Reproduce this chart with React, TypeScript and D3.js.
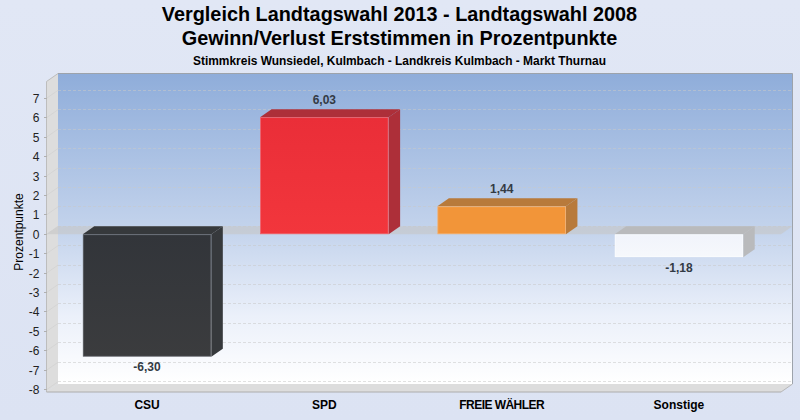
import * as d3 from "d3";

const parties = ["CSU", "SPD", "FREIE WÄHLER", "Sonstige"];
const changes = [-6.3, 6.03, 1.44, -1.18];
const changeLabels = ["-6,30", "6,03", "1,44", "-1,18"];
const frontTop = ["#32353a", "#ea2e38", "#f29539", "#f1f4fb"];
const frontBottom = ["#3b3c3e", "#f2363c", "#f29539", "#f6f8fc"];
const sideColors = ["#36393c", "#ad2f39", "#b87a3b", "#b9babc"];
const edgeColors = ["#54575c", "#f0606a", "#f5ae6a", "#ffffff"];

const WIDTH = 800;
const HEIGHT = 420;
// 3D-Versatz der Rückwand
const dx = 11.5;
const dy = -8;
const left = 46.5;
const right = 781;
const floorY = 392;
const topY = 81.5;

const y = d3.scaleLinear().domain([-8, 7]).range([389.7, 98.3]);
const x = d3
  .scaleBand<string>()
  .domain(parties)
  .range([58.4, 767.6])
  .paddingInner(0.275)
  .paddingOuter(0.1375);

const poly = (pts: [number, number][]) => d3.line()(pts) + "Z";

export default function App() {
  const ticks = y.ticks(15);
  const zero = y(0);

  return (
    <svg
      width={WIDTH}
      height={HEIGHT}
      style={{ display: "block", fontFamily: "'Liberation Sans', Arial, sans-serif" }}
    >
      <style>{`body{margin:0}`}</style>
      <defs>
        <linearGradient id="page" x1="0" y1="0" x2="0" y2="1">
          <stop offset="0" stopColor="#e1e7f5" />
          <stop offset="1" stopColor="#dce3f3" />
        </linearGradient>
        <linearGradient id="wall" x1="0" y1="0" x2="0" y2="1">
          <stop offset="0" stopColor="#8fadda" />
          <stop offset="0.5" stopColor="#c3d3ec" />
          <stop offset="0.78" stopColor="#ebf0fa" />
          <stop offset="1" stopColor="#ffffff" />
        </linearGradient>
        {parties.map((p, i) => (
          <linearGradient key={p} id={`front${i}`} x1="0" y1="0" x2="0" y2="1">
            <stop offset="0" stopColor={frontTop[i]} />
            <stop offset="1" stopColor={frontBottom[i]} />
          </linearGradient>
        ))}
      </defs>

      <rect width={WIDTH} height={HEIGHT} fill="url(#page)" />

      {/* Titel */}
      <g textAnchor="middle" fontWeight="bold" fill="#000">
        <text x={399.5} y={21} fontSize={19.85}>
          Vergleich Landtagswahl 2013 - Landtagswahl 2008
        </text>
        <text x={399.5} y={45} fontSize={19.85}>
          Gewinn/Verlust Erststimmen in Prozentpunkte
        </text>
        <text x={399.5} y={65} fontSize={11.95}>
          Stimmkreis Wunsiedel, Kulmbach - Landkreis Kulmbach - Markt Thurnau
        </text>
      </g>

      {/* Rückwand, Seitenwand, Boden */}
      <rect
        x={left + dx}
        y={topY + dy}
        width={right - left}
        height={floorY - topY}
        fill="url(#wall)"
      />
      <path
        d={d3.line()([
          [left + dx, topY + dy],
          [right + dx, topY + dy],
          [right + dx, floorY + dy],
        ])!}
        fill="none"
        stroke="#9da3ab"
      />
      <path
        d={poly([
          [left, topY],
          [left + dx, topY + dy],
          [left + dx, floorY + dy],
          [left, floorY],
        ])}
        fill="#dddddd"
      />
      <path
        d={d3.line()([
          [left, floorY],
          [left, topY],
          [left + dx, topY + dy],
        ])!}
        fill="none"
        stroke="#bdbdbd"
      />
      <path
        d={poly([
          [left, floorY],
          [left + dx, floorY + dy],
          [right + dx, floorY + dy],
          [right, floorY],
        ])}
        fill="#dddddd"
      />
      <line x1={left} x2={right} y1={floorY} y2={floorY} stroke="#acacac" />
      <line
        x1={right}
        x2={right + dx}
        y1={floorY}
        y2={floorY + dy}
        stroke="#b8b8b8"
      />

      {/* Gitterlinien */}
      {ticks.map((t) => (
        <g key={t}>
          <line
            x1={left + dx}
            x2={right + dx}
            y1={y(t) + dy}
            y2={y(t) + dy}
            stroke="#c8c8c8"
            strokeOpacity={0.55}
            strokeDasharray="3 2"
            shapeRendering="crispEdges"
          />
          <line
            x1={left}
            x2={left + dx}
            y1={y(t)}
            y2={y(t) + dy}
            stroke="#cfcfcf"
            strokeOpacity={0.6}
          />
          <line
            x1={left - 3}
            x2={left}
            y1={y(t)}
            y2={y(t)}
            stroke="#b0b0b0"
            shapeRendering="crispEdges"
          />
          <text
            x={39.5}
            y={y(t) + 4.5}
            textAnchor="end"
            fontSize={12}
            fill="#222"
          >
            {t}
          </text>
        </g>
      ))}

      {/* Nullebene */}
      <path
        d={poly([
          [left, zero],
          [left + dx, zero + dy],
          [right + dx, zero + dy],
          [right, zero],
        ])}
        fill="#c6c6c6"
        fillOpacity={0.6}
      />

      {/* Balken */}
      {parties.map((p, i) => {
        const x0 = x(p)!;
        const x1 = x0 + x.bandwidth();
        const yVal = y(changes[i]);
        const top = Math.min(yVal, zero);
        const bottom = Math.max(yVal, zero);
        return (
          <g key={p}>
            <path
              d={poly([
                [x0, top],
                [x0 + dx, top + dy],
                [x1 + dx, top + dy],
                [x1, top],
              ])}
              fill={sideColors[i]}
            />
            <path
              d={poly([
                [x1, top],
                [x1 + dx, top + dy],
                [x1 + dx, bottom + dy],
                [x1, bottom],
              ])}
              fill={sideColors[i]}
            />
            <rect
              x={x0 + 0.5}
              y={top + 0.5}
              width={x.bandwidth() - 1}
              height={bottom - top - 1}
              fill={`url(#front${i})`}
              stroke={edgeColors[i]}
              strokeWidth={0.8}
            />
            <text
              x={x0 + x.bandwidth() / 2}
              y={changes[i] < 0 ? bottom + 14.5 : top + dy - 5}
              textAnchor="middle"
              fontSize={12}
              fontWeight="bold"
              fill="#333a44"
            >
              {changeLabels[i]}
            </text>
            <text
              x={x0 + x.bandwidth() / 2}
              y={409}
              textAnchor="middle"
              fontSize={12}
              fontWeight="bold"
              letterSpacing={p.length > 10 ? -0.55 : 0}
              fill="#000"
            >
              {p}
            </text>
          </g>
        );
      })}

      {/* Y-Achsentitel */}
      <text
        transform="translate(23,232) rotate(-90)"
        textAnchor="middle"
        fontSize={12}
        fill="#000"
      >
        Prozentpunkte
      </text>
    </svg>
  );
}
